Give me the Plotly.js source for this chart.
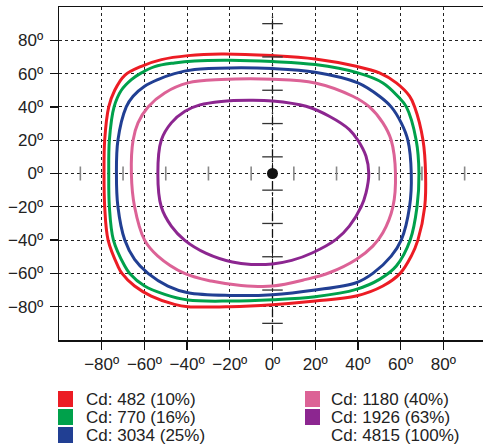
<!DOCTYPE html>
<html><head><meta charset="utf-8">
<script src="https://cdn.plot.ly/plotly-3.0.1.min.js"></script>
<style>html,body{margin:0;padding:0;background:#fff;overflow:hidden;}</style>
</head><body><div id="chart" style="width:483px;height:446px;"></div>
<script>
// ---- data ----
const seriesLabels = ['Cd: 482 (10%)', 'Cd: 770 (16%)', 'Cd: 3034 (25%)', 'Cd: 1180 (40%)', 'Cd: 1926 (63%)', 'Cd: 4815 (100%)'];
const seriesColors = ['#ec1c24', '#00a14b', '#213f93', '#dc6296', '#8c2690', null];

const redX = [0, 20, 39.2, 50.1, 58, 64.2, 66.6, 70.5, 71.7, 71.3, 68.1, 65, 59.8, 51.7, 39.2, 20, 0, -20, -39.6, -45.9, -56.8, -64.6, -70.5, -72.4, -77, -78.6, -78.9, -78.6, -76.7, -73.9, -69.2, -61.4, -52, -39.6, -24, 0];
const redY = [70.8, 68.8, 64.4, 60.4, 54.4, 46.4, 40, 20, 0, -20, -40, -49.6, -60, -67.6, -73.6, -76.6, -78.8, -80, -80, -78.6, -73.6, -67.6, -60, -55.6, -40, -20, 0, 20, 40, 50, 59, 64.4, 68.4, 70.8, 71.8, 70.8];

const greenX = [0, 20, 40, 51.7, 58.7, 62.7, 67.3, 68.6, 67.7, 64.5, 58, 50.1, 39.2, 20, 0, -20, -39.6, -50.5, -59.9, -66.9, -69.2, -74.5, -76.4, -76.7, -76.4, -74.2, -70.8, -66.1, -62, -55.2, -45.9, -36.5, -20, 0];
const greenY = [67.2, 65.4, 60.4, 54.4, 46.4, 40, 20, 0, -20, -40, -55.6, -63.6, -69.6, -74, -75.8, -76.6, -76, -72.6, -67.6, -60, -55.6, -40, -20, 0, 20, 40, 50, 56.4, 60, 64.2, 66.4, 67.6, 68, 67.2];

const blueX = [0, 20, 40, 50.1, 55.6, 60.3, 63.4, 65, 64.2, 60.3, 55.6, 47, 39.2, 20, 0, -20, -39.6, -49, -58.3, -64.6, -69.2, -72.4, -73.1, -72.4, -68.5, -65.3, -59.9, -53.7, -45.9, -36.5, -20, 0];
const blueY = [63, 60.8, 54.4, 46.4, 40, 30.4, 20, 0, -20, -40, -49.6, -60, -65.6, -70, -72.8, -73.2, -71.6, -67.6, -60, -51.6, -40, -20, 0, 20, 40, 46.4, 52.4, 56.4, 60, 62.4, 63.4, 63];

const pinkX = [0, 20, 37.6, 45.4, 51.7, 55.6, 57.6, 56.4, 51.7, 47, 39.2, 26.6, 15.7, 0, -14.7, -28.7, -41.2, -53.7, -59.9, -64.6, -66.1, -65.3, -63, -58.3, -50.5, -39.6, -24, 0];
const pinkY = [56.6, 54.4, 46.4, 40, 30.4, 20, 0, -20, -35.6, -43.6, -51.6, -59.6, -63.6, -67.6, -67.2, -64.6, -60, -49.6, -40, -20, 0, 20, 30.4, 40, 48.4, 54.4, 56.4, 56.6];

const purpleX = [0, 15.7, 26.6, 36, 40, 43.8, 45.1, 43.8, 41.5, 36, 29.8, 18.8, 9, 0, -10, -18.8, -31, -41.2, -47.4, -52.1, -53.7, -52.1, -47.4, -41, -34, -24, -11, 0];
const purpleY = [43.6, 40.4, 34.4, 26.4, 20, 10.4, 0, -11.6, -20, -31.6, -39.6, -47.6, -52.2, -54.3, -54.6, -53.2, -48, -40, -31.6, -20, 0, 20, 30.4, 37.4, 41.2, 43.3, 44, 43.6];

const peakX = [0];
const peakY = [0];

const tickVals = [-80, -60, -40, -20, 0, 20, 40, 60, 80];
const tickText = ['−80º', '−60º', '−40º', '−20º', '0º', '20º', '40º', '60º', '80º'];
const crossTicks = [-90, -70, -50, -30, -10, 10, 30, 50, 70, 90];

// ---- layout helpers ----
const W = 483, H = 446;
const M = {l: 59, r: 0, t: 7, b: 106};
const plotW = W - M.l - M.r, plotH = H - M.t - M.b;
const px2paperX = px => (px - M.l) / plotW;
const py2paperY = py => (H - M.b - py) / plotH;
const FONT = 'Liberation Sans, Arial, sans-serif';

const curves = [[redX, redY], [greenX, greenY], [blueX, blueY], [pinkX, pinkY], [purpleX, purpleY]];
const traces = curves.map((c, i) => ({
  x: c[0], y: c[1], type: 'scatter', mode: 'lines',
  line: {color: seriesColors[i], width: 3, shape: 'spline', smoothing: 1},
  showlegend: false, hoverinfo: 'skip'
}));
// center axis dash-dot line
traces.unshift({x: [0, 0], y: [-96, 96], type: 'scatter', mode: 'lines',
  line: {color: '#111', width: 1.3, dash: '8px,3px,2px,3px'}, showlegend: false, hoverinfo: 'skip'});
traces.push({x: peakX, y: peakY, type: 'scatter', mode: 'markers',
  marker: {color: '#111', size: 11}, showlegend: false, hoverinfo: 'skip'});

const shapes = [];
crossTicks.forEach(v => {
  shapes.push({type: 'line', xref: 'x', yref: 'y', x0: -4.8, x1: 4.8, y0: v, y1: v,
    line: {color: '#333', width: 1.3}, layer: 'above'});
  shapes.push({type: 'line', xref: 'x', yref: 'y', x0: v, x1: v, y0: -4.2, y1: 4.2,
    line: {color: '#888', width: 1.6}, layer: 'above'});
});

const annotations = [];
const colX = [[58, 85], [305, 330]];
const rowY = [399, 417, 435];
seriesLabels.forEach((lab, i) => {
  const col = i < 3 ? 0 : 1, row = i % 3;
  if (seriesColors[i]) {
    shapes.push({type: 'rect', xref: 'paper', yref: 'paper',
      x0: px2paperX(colX[col][0]), x1: px2paperX(colX[col][0] + 15),
      y0: py2paperY(rowY[row] - 8), y1: py2paperY(rowY[row] + 8),
      fillcolor: seriesColors[i], line: {width: 0}});
  }
  annotations.push({xref: 'paper', yref: 'paper', x: px2paperX(colX[col][1]), y: py2paperY(rowY[row]),
    xanchor: 'left', yanchor: 'middle', showarrow: false, text: lab, height: 18, borderpad: 0,
    font: {family: FONT, size: 17, color: '#222'}});
});

const axisCommon = {
  tickvals: tickVals, ticktext: tickText, ticks: 'outside', ticklen: 8, tickwidth: 1.3, tickcolor: '#111',
  showgrid: true, gridcolor: '#222', griddash: 'dot', gridwidth: 1, zeroline: false,
  showline: true, linecolor: '#111', linewidth: 1.5,
  tickfont: {family: FONT, size: 17, color: '#222'},
  fixedrange: true
};

const layout = {
  width: W, height: H, margin: M,
  paper_bgcolor: '#fff', plot_bgcolor: '#fff',
  xaxis: Object.assign({}, axisCommon, {range: [-100, 98.6], mirror: true}),
  yaxis: Object.assign({}, axisCommon, {range: [-100, 100], mirror: false, ticklabelstandoff: 3}),
  shapes: shapes, annotations: annotations, showlegend: false
};

Plotly.newPlot('chart', traces, layout, {displayModeBar: false, staticPlot: true});
</script></body></html>
